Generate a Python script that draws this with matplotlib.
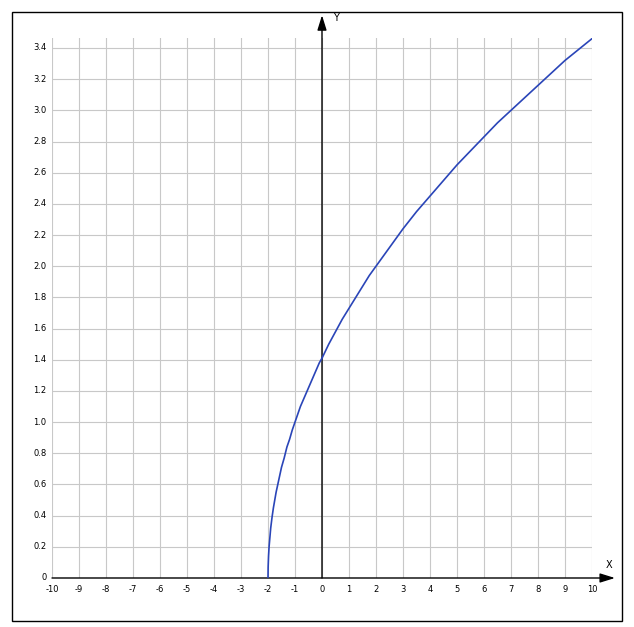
import matplotlib
matplotlib.use("Agg")
from matplotlib import pyplot as plt
from matplotlib.patches import Rectangle

# values
curve_x = [-2, -1.995, -1.98, -1.96, -1.93, -1.9, -1.85, -1.8, -1.75, -1.7, -1.65, -1.6,
           -1.5, -1.4, -1.3, -1.2, -1.1, -1.0, -0.9, -0.8, -0.7, -0.6, -0.5, -0.4, -0.3,
           -0.2, -0.1, 0, 0.25, 0.5, 0.75, 1, 1.25, 1.5, 1.75, 2, 2.5, 3, 3.5, 4, 4.5, 5,
           5.5, 6, 6.5, 7, 7.5, 8, 8.5, 9, 9.5, 10]
curve_y = [0, 0.07, 0.14, 0.2, 0.26, 0.32, 0.39, 0.45, 0.5, 0.55, 0.59, 0.63,
           0.71, 0.77, 0.84, 0.89, 0.95, 1.0, 1.05, 1.1, 1.14, 1.18, 1.22, 1.26, 1.3,
           1.34, 1.38, 1.41, 1.5, 1.58, 1.66, 1.73, 1.8, 1.87, 1.94, 2.0, 2.12, 2.24, 2.35,
           2.45, 2.55, 2.65, 2.74, 2.83, 2.92, 3.0, 3.08, 3.16, 3.24, 3.32, 3.39, 3.46]
x_ticks = list(range(-10, 11))
y_ticks = [round(0.2 * i, 1) for i in range(18)]
y_labels = ["0"] + ["%.1f" % v for v in y_ticks[1:]]

W, H = 634, 627
fig = plt.figure(figsize=(W / 100, H / 100), dpi=100)
fig.patch.set_facecolor("white")

# frame around the whole chart
fig.add_artist(Rectangle((12 / W, 1 - 621 / H), 610 / W, 609 / H, transform=fig.transFigure,
                         fill=False, edgecolor="black", linewidth=1.0))

ax = fig.add_axes([52 / W, 1 - 578 / H, 540 / W, 540 / H])
ymax = 3.464
ax.set_xlim(-10, 10)
ax.set_ylim(0, ymax)
for s in ax.spines.values():
    s.set_visible(False)
ax.set_xticks([])
ax.set_yticks([])

grid_c = "#c8c8c8"
for x in x_ticks:
    ax.plot([x, x], [0, ymax], color=grid_c, linewidth=0.8, zorder=1)
for y in y_ticks:
    ax.plot([-10, 10], [y, y], color=grid_c, linewidth=0.8, zorder=1)

# axes with arrows
head = "-|>,head_length=0.9,head_width=0.28"
ax.annotate("", xy=(10.85, 0), xytext=(-10, 0), annotation_clip=False,
            arrowprops=dict(arrowstyle=head, color="black",
                            linewidth=1.0, shrinkA=0, shrinkB=0), zorder=3)
ax.annotate("", xy=(0, 3.61), xytext=(0, 0), annotation_clip=False,
            arrowprops=dict(arrowstyle=head, color="black",
                            linewidth=1.0, shrinkA=0, shrinkB=0), zorder=3)
ax.text(10.63, 0.085, "X", fontsize=7, ha="center", va="center", clip_on=False)
ax.text(0.5, 3.59, "Y", fontsize=7, ha="center", va="center", clip_on=False)

ax.plot(curve_x, curve_y, color="#2a45b8", linewidth=1.2, zorder=4)

for x in x_ticks:
    ax.text(x, -0.075, str(x), fontsize=6, ha="center", va="center", clip_on=False)
for y, lab in zip(y_ticks, y_labels):
    ax.text(-10.2, y, lab, fontsize=6, ha="right", va="center", clip_on=False)

fig.savefig("out.png", dpi=100)
